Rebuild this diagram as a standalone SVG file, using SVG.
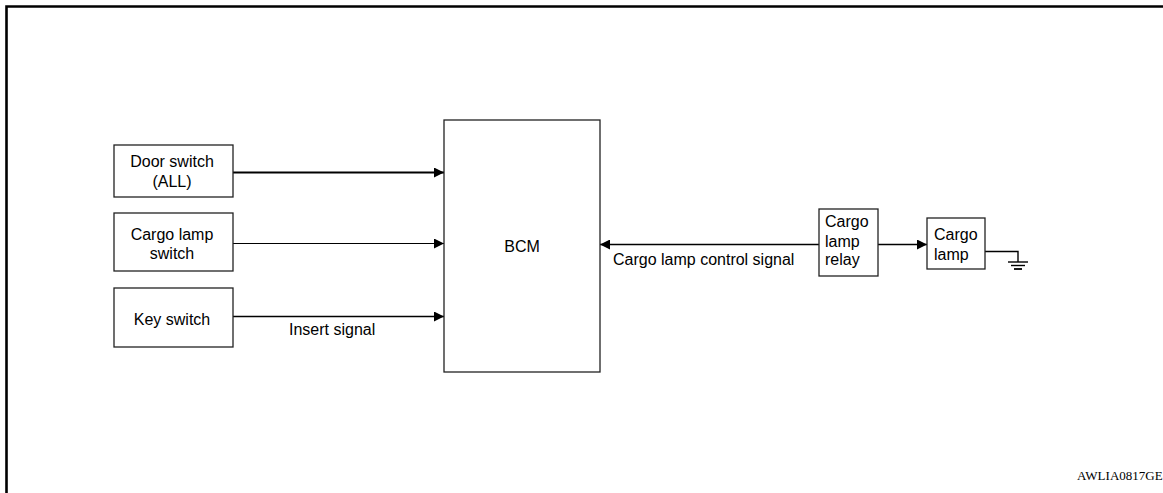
<svg xmlns="http://www.w3.org/2000/svg" width="1163" height="493" viewBox="0 0 1163 493">
<defs>
<marker id="ah" viewBox="0 0 10 10" refX="10" refY="5" markerWidth="10" markerHeight="10" markerUnits="userSpaceOnUse" orient="auto">
<path d="M0,0 L10,5 L0,10 Z" fill="#000"/>
</marker>
</defs>
<style>
.box{fill:#fff;stroke:#222;stroke-width:1.3}
.t{font-family:"Liberation Sans",Arial,sans-serif;font-size:16px;fill:#000}
.c{text-anchor:middle}
.ln{stroke:#000;stroke-width:1.4;fill:none}
</style>
<rect width="1163" height="493" fill="#fff"/>
<path d="M6.5,493 V6.5 H1163" fill="none" stroke="#000" stroke-width="2.6"/>
<g id="connectors">
<line class="ln" x1="233" y1="172.5" x2="444" y2="172.5" marker-end="url(#ah)" style="stroke-width:1.8"/>
<line class="ln" x1="233" y1="243.5" x2="444" y2="243.5" marker-end="url(#ah)" style="stroke-width:1.2"/>
<line class="ln" x1="233" y1="316.5" x2="444" y2="316.5" marker-end="url(#ah)" style="stroke-width:1.6"/>
<text class="t" x="289" y="335">Insert signal</text>
<line class="ln" x1="819" y1="244.5" x2="600" y2="244.5" marker-end="url(#ah)" style="stroke-width:1.6"/>
<text class="t" x="613" y="265">Cargo lamp control signal</text>
<line class="ln" x1="878" y1="244.5" x2="927" y2="244.5" marker-end="url(#ah)" style="stroke-width:1.6"/>
<path class="ln" d="M985,251.5 H1018 V262"/>
<line class="ln" x1="1008" y1="262" x2="1028" y2="262"/>
<line class="ln" x1="1011" y1="265.5" x2="1025" y2="265.5"/>
<line class="ln" x1="1014" y1="269" x2="1022" y2="269" style="stroke-width:1.8"/>
</g>
<g id="door-switch">
<rect class="box" x="114" y="145" width="119" height="52"/>
<text class="t c" x="172" y="166.5">Door switch</text>
<text class="t c" x="172" y="186.5">(ALL)</text>
</g>
<g id="cargo-lamp-switch">
<rect class="box" x="114" y="213" width="119" height="58"/>
<text class="t c" x="172" y="240">Cargo lamp</text>
<text class="t c" x="172" y="258.5">switch</text>
</g>
<g id="key-switch">
<rect class="box" x="114" y="288" width="119" height="59"/>
<text class="t c" x="172" y="324.5">Key switch</text>
</g>
<g id="bcm">
<rect class="box" x="444" y="120" width="156" height="252"/>
<text class="t c" x="522" y="251.5">BCM</text>
</g>
<g id="cargo-lamp-relay">
<rect class="box" x="819" y="209" width="59" height="67"/>
<text class="t" x="825" y="227">Cargo</text>
<text class="t" x="825" y="246.5">lamp</text>
<text class="t" x="825" y="264.5">relay</text>
</g>
<g id="cargo-lamp">
<rect class="box" x="927" y="218" width="58" height="51"/>
<text class="t" x="934" y="240">Cargo</text>
<text class="t" x="934" y="260">lamp</text>
</g>
<text x="1077" y="480" font-family="Liberation Serif,Times New Roman,serif" font-size="13" fill="#000">AWLIA0817GE</text>
</svg>
